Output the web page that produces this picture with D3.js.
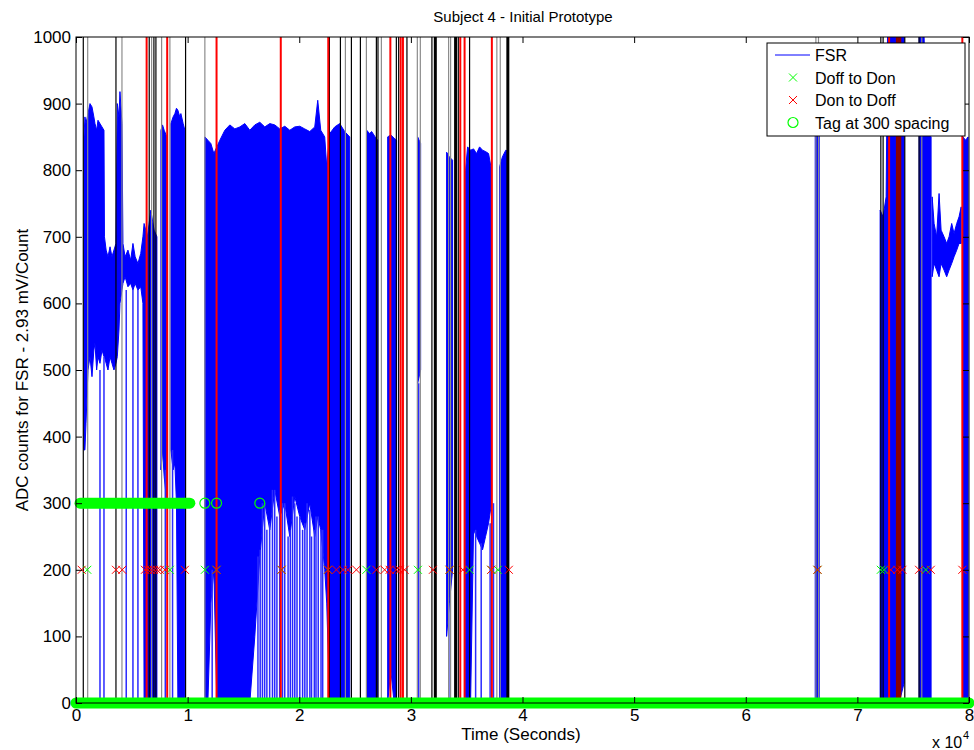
<!DOCTYPE html>
<html>
<head>
<meta charset="utf-8">
<script src="https://cdn.jsdelivr.net/npm/d3@7"></script>
<style>
body { margin: 0; background: #fff; }
text { font-family: "Liberation Sans", Arial, sans-serif; }
</style>
</head>
<body>
<div class="mainContent"></div>
<script>
const w = 974;
const h = 750;
const plotL = 76, plotR = 969, plotT = 37, plotB = 703;

// tick labels
const xTicks = [0, 10000, 20000, 30000, 40000, 50000, 60000, 70000, 80000];
const yTicks = [0, 100, 200, 300, 400, 500, 600, 700, 800, 900, 1000];

const fsrBlocks = [
  [[716, 850, 380], [800, 880, 380], [895, 870, 420], [1074, 885, 500], [1253, 900, 520], [1432, 895, 490],
   [1600, 880, 530], [1700, 870, 540], [1850, 860, 500], [1969, 875, 520], [2148, 870, 510], [2327, 865, 530],
   [2506, 860, 520], [2550, 700, 520], [2700, 680, 510], [2864, 670, 500], [3050, 685, 520], [3222, 670, 510],
   [3400, 680, 500], [3580, 690, 510], [3700, 900, 520], [3850, 880, 560], [3938, 918, 600], [4117, 870, 620],
   [4206, 690, 630], [4400, 670, 640], [4653, 680, 625], [4900, 665, 630], [5101, 690, 620], [5300, 670, 630],
   [5548, 660, 620], [5800, 675, 625], [5996, 700, 600], [6100, 720, 0], [6400, 700, 0], [6700, 740, 0],
   [7000, 710, 0], [7249, 700, 0]],
  [[7607, 860, 350], [7750, 868, 380], [7900, 860, 340], [8143, 850, 300]],
  [[8502, 870, 380], [8700, 880, 350], [8859, 885, 360], [9000, 893, 300], [9128, 890, 0], [9300, 880, 0],
   [9396, 885, 0], [9600, 870, 0], [9754, 860, 0]],
  [[11544, 850, 0], [11813, 845, 0], [12081, 840, 150], [12350, 825, 200], [12618, 835, 0], [12887, 845, 0],
   [13334, 860, 0], [13781, 868, 0], [14229, 862, 0], [14676, 865, 0], [15124, 870, 0], [15571, 860, 0],
   [16018, 868, 100], [16466, 872, 220], [16913, 865, 300], [17361, 870, 260], [17808, 868, 320],
   [18256, 862, 280], [18703, 866, 300], [19151, 860, 250], [19598, 865, 310], [20046, 866, 280],
   [20493, 862, 260], [20941, 858, 300], [21389, 865, 250], [21657, 905, 280], [21926, 860, 260],
   [22283, 850, 200], [22462, 805, 150], [22730, 855, 0], [23178, 865, 0], [23625, 870, 0],
   [24073, 858, 0], [24520, 850, 0]],
  [[26042, 860, 0], [26300, 855, 0], [26489, 858, 0], [26800, 850, 0], [27026, 845, 0]],
  [[27921, 850, 0], [28200, 853, 50], [28500, 848, 0], [28726, 845, 0]],
  [[30605, 850, 480], [30874, 840, 500]],
  [[33201, 827, 100], [33450, 820, 150], [33738, 815, 200]],
  [[34901, 800, 0], [35080, 835, 0], [35348, 830, 0], [35617, 832, 260], [35885, 825, 250], [36154, 835, 240],
   [36422, 830, 230], [36690, 828, 250], [36959, 825, 270], [37228, 800, 300]],
  [[37944, 805, 0], [38200, 820, 0], [38500, 830, 0], [38749, 828, 0]],
  [[66223, 870, 0], [66400, 880, 0], [66580, 860, 0]],
  [[72039, 740, 0], [72300, 730, 0], [72576, 760, 0], [72700, 1000, 0], [73292, 1000, 0], [73739, 1000, 0],
   [74186, 1000, 30]],
  [[75530, 1000, 0], [75977, 1000, 0], [76200, 860, 0], [76604, 850, 0]],
  [[76700, 760, 640], [76872, 720, 660], [77100, 700, 650], [77319, 765, 640], [77500, 710, 660],
   [77766, 700, 650], [78000, 690, 640], [78214, 700, 650], [78450, 720, 660], [78661, 705, 670],
   [78900, 720, 680], [79108, 730, 690], [79300, 745, 690]],
  [[79450, 850, 0], [79700, 845, 0], [79915, 850, 0]]
];

// thin FSR drops to zero: [time, top]
const fsrSpikes = [
  [2148, 500], [2506, 520], [4500, 620], [5101, 620], [5548, 620], [8000, 350], [8650, 380],
  [12200, 200], [16300, 220], [16500, 230], [16700, 300], [16900, 300], [17100, 260], [17350, 270],
  [17600, 320], [17800, 320], [18000, 280], [18250, 290], [18500, 300], [18700, 300], [19000, 250],
  [19200, 260], [19400, 310], [19600, 300], [19800, 280], [20050, 280], [20300, 260], [20500, 270],
  [20700, 300], [20950, 290], [21100, 250], [21350, 260], [21500, 280], [21700, 280], [21950, 260],
  [22100, 260], [30700, 480], [33400, 150], [35800, 260], [36300, 240], [37100, 270], [37400, 300]
];

// event markers at level 200
const markerLevel = 200;
const doffToDon = [1011, 8412, 11544, 12591, 18408, 22578, 26015, 30632, 33469, 35259, 37201, 37792,
  66427, 72101, 72396, 76128];
const donToDoff = [510, 3580, 4143, 6175, 6443, 6711, 6980, 7249, 7517, 7964, 9754, 12591, 18408, 22578,
  23330, 23921, 24368, 25120, 26910, 27652, 28099, 28699, 28995, 29442, 31975, 33469, 34659, 37201,
  38776, 66427, 72995, 73586, 74033, 75528, 76575, 79403];

// tags: dense runs of circles and single ones
const tagRuns = [[0, 80000, 0], [360, 10200, 300]];
const tagSingles = [[11544, 300], [12591, 300], [16466, 300]];

// vertical event lines
const linesBlack = [653, 3580, 6560, 6980, 7159, 9817, 22700, 23688, 24672, 25478, 26910, 27053, 28699,
  28905, 29648, 31885, 34248, 35259, 72101, 72306, 74248, 75528];
const linesGray = [1047, 4117, 6774, 7669, 8412, 11544, 24135, 26015, 27357, 30578, 30847, 33380, 33559,
  37702, 38007, 66284, 66517, 75770];
const linesThick = [32190, 34006, 38687];
const linesRed = [6327, 8170, 12591, 18345, 22600, 28162, 29084, 29290, 34427, 34812, 37255, 72843, 79403];
const linesDarkRed = [73586, 73800];

const xScale = d3.scaleLinear().domain([0, 80000]).range([plotL, plotR]);
const yScale = d3.scaleLinear().domain([0, 1000]).range([plotB, plotT]);

const svg = d3.select('.mainContent')
  .append('svg')
  .attr('width', w)
  .attr('height', h);

svg.append('rect').attr('width', w).attr('height', h).attr('fill', '#fff');

svg.append('clipPath').attr('id', 'plotClip')
  .append('rect')
  .attr('x', plotL).attr('y', plotT)
  .attr('width', plotR - plotL).attr('height', plotB - plotT);

const plot = svg.append('g').attr('clip-path', 'url(#plotClip)');

// FSR
const area = d3.area()
  .x(d => xScale(d[0]))
  .y0(d => yScale(d[2]))
  .y1(d => yScale(d[1]));

fsrBlocks.forEach(block => {
  plot.append('path')
    .datum(block)
    .attr('d', area)
    .attr('fill', '#0000ff')
    .attr('stroke', '#0000ff')
    .attr('stroke-width', 1);
});

plot.selectAll('line.spike')
  .data(fsrSpikes)
  .enter()
  .append('line')
  .attr('class', 'spike')
  .attr('x1', d => xScale(d[0])).attr('x2', d => xScale(d[0]))
  .attr('y1', yScale(0)).attr('y2', d => yScale(d[1]))
  .attr('stroke', '#2a2aff')
  .attr('stroke-width', 1.5);

// markers
const cross = 'M-4,-4L4,4M-4,4L4,-4';
svg.selectAll('path.don')
  .data(doffToDon)
  .enter()
  .append('path')
  .attr('class', 'don')
  .attr('d', cross)
  .attr('transform', d => `translate(${xScale(d)},${yScale(markerLevel)})`)
  .attr('fill', 'none')
  .attr('stroke', '#00ff00');
svg.selectAll('path.doff')
  .data(donToDoff)
  .enter()
  .append('path')
  .attr('class', 'doff')
  .attr('d', cross)
  .attr('transform', d => `translate(${xScale(d)},${yScale(markerLevel)})`)
  .attr('fill', 'none')
  .attr('stroke', '#ff0000');

// tags
svg.selectAll('line.tagrun')
  .data(tagRuns)
  .enter()
  .append('line')
  .attr('class', 'tagrun')
  .attr('x1', d => xScale(d[0])).attr('x2', d => xScale(d[1]))
  .attr('y1', d => yScale(d[2])).attr('y2', d => yScale(d[2]))
  .attr('stroke', '#00ff00')
  .attr('stroke-width', 11)
  .attr('stroke-linecap', 'round');
svg.selectAll('circle.tag')
  .data(tagSingles)
  .enter()
  .append('circle')
  .attr('class', 'tag')
  .attr('cx', d => xScale(d[0]))
  .attr('cy', d => yScale(d[1]))
  .attr('r', 5)
  .attr('fill', 'none')
  .attr('stroke', '#00ff00')
  .attr('stroke-width', 1.2);

// vertical event lines
function vlines(data, color, width) {
  plot.append('g').selectAll('line')
    .data(data)
    .enter()
    .append('line')
    .attr('x1', d => xScale(d)).attr('x2', d => xScale(d))
    .attr('y1', yScale(0)).attr('y2', yScale(1000))
    .attr('stroke', color)
    .attr('stroke-width', width);
}
vlines(linesGray, '#8c8c8c', 1.2);
vlines(linesBlack, '#000', 1.2);
vlines(linesThick, '#000', 3);
vlines(linesRed, '#ff0000', 2);
vlines(linesDarkRed, '#8b0000', 3);

// axes
function styleAxis(g) {
  g.select('.domain').remove();
  g.selectAll('text').attr('font-size', 17).attr('font-family', '"Liberation Sans", Arial, sans-serif').attr('fill', '#000');
  g.selectAll('line').attr('stroke', '#000');
}
svg.append('g')
  .attr('transform', `translate(0,${plotB})`)
  .call(d3.axisBottom(xScale).tickValues(xTicks).tickFormat(d => d / 10000)
    .tickSizeInner(-6).tickSizeOuter(0).tickPadding(6))
  .call(styleAxis);
svg.append('g')
  .attr('transform', `translate(0,${plotT})`)
  .call(d3.axisTop(xScale).tickValues(xTicks).tickFormat('')
    .tickSizeInner(-6).tickSizeOuter(0))
  .call(styleAxis);
svg.append('g')
  .attr('transform', `translate(${plotL},0)`)
  .call(d3.axisLeft(yScale).tickValues(yTicks).tickFormat(d3.format('d'))
    .tickSizeInner(-6).tickSizeOuter(0).tickPadding(5))
  .call(styleAxis);
svg.append('g')
  .attr('transform', `translate(${plotR},0)`)
  .call(d3.axisRight(yScale).tickValues(yTicks).tickFormat('')
    .tickSizeInner(-6).tickSizeOuter(0))
  .call(styleAxis);

svg.append('rect')
  .attr('x', plotL).attr('y', plotT)
  .attr('width', plotR - plotL).attr('height', plotB - plotT)
  .attr('fill', 'none')
  .attr('stroke', '#000')
  .attr('stroke-width', 1);

// texts
svg.append('text')
  .attr('x', 523).attr('y', 22)
  .attr('text-anchor', 'middle')
  .attr('font-size', 15)
  .text('Subject 4 - Initial Prototype');
svg.append('text')
  .attr('transform', 'translate(28,370) rotate(-90)')
  .attr('text-anchor', 'middle')
  .attr('font-size', 17)
  .text('ADC counts for FSR - 2.93 mV/Count');
svg.append('text')
  .attr('x', 521).attr('y', 740)
  .attr('text-anchor', 'middle')
  .attr('font-size', 17)
  .text('Time (Seconds)');
svg.append('text')
  .attr('x', 932).attr('y', 748)
  .attr('font-size', 16)
  .text('x 10');
svg.append('text')
  .attr('x', 963).attr('y', 739)
  .attr('font-size', 11)
  .text('4');

// legend
const legend = svg.append('g').attr('transform', 'translate(767,43)');
legend.append('rect')
  .attr('width', 198).attr('height', 93)
  .attr('fill', '#fff').attr('stroke', '#000');
const legendRows = ['FSR', 'Doff to Don', 'Don to Doff', 'Tag at 300 spacing'];
legendRows.forEach((label, i) => {
  const cy = 12 + i * 22.5;
  if (i === 0) {
    legend.append('line').attr('x1', 8).attr('x2', 43).attr('y1', cy).attr('y2', cy)
      .attr('stroke', '#0000ff');
  } else if (i < 3) {
    legend.append('path').attr('d', cross)
      .attr('transform', `translate(26,${cy})`)
      .attr('fill', 'none')
      .attr('stroke', i === 1 ? '#00ff00' : '#ff0000');
  } else {
    legend.append('circle').attr('cx', 26).attr('cy', cy).attr('r', 5)
      .attr('fill', 'none').attr('stroke', '#00ff00').attr('stroke-width', 1.2);
  }
  legend.append('text')
    .attr('x', 48).attr('y', cy + 6)
    .attr('font-size', 16)
    .text(label);
});
</script>
</body>
</html>
